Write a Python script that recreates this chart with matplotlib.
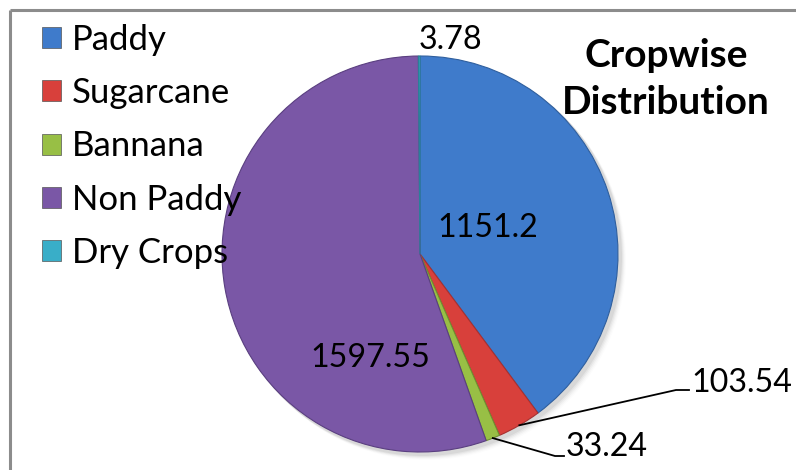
import matplotlib
matplotlib.use("Agg")
import matplotlib.pyplot as plt
import numpy as np

categories = ["Paddy", "Sugarcane", "Bannana", "Non Paddy", "Dry Crops"]
values = [1151.2, 103.54, 33.24, 1597.55, 3.78]
value_labels = ["1151.2", "103.54", "33.24", "1597.55", "3.78"]
colors = ["#3f7bcb", "#d8403b", "#98bf45", "#7a57a6", "#39aec8"]
edge_colors = ["#2f5f9e", "#a83030", "#6f8f30", "#5a3f80", "#2a8099"]
title = "Cropwise\nDistribution"

W, H = 796, 470
fig = plt.figure(figsize=(W / 100, H / 100), dpi=100)
ax = fig.add_axes([0, 0, 1, 1])
ax.set_xlim(0, W)
ax.set_ylim(0, H)
ax.axis("off")

FONT = "Lato"
cx, cy, R = 420, H - 254, 198

# soft shadow
for i, a in enumerate(np.linspace(0.05, 0.01, 5)):
    ax.add_patch(plt.Circle((cx + 3 + i, cy - 3 - i), R + 1, color="black", alpha=a, lw=0, zorder=0))

wedges, _ = ax.pie(values, colors=colors, startangle=90, counterclock=False,
                   center=(cx, cy), radius=R, frame=True,
                   wedgeprops=dict(linewidth=0.8))
for w, ec in zip(wedges, edge_colors):
    w.set_edgecolor(ec)
    w.set_zorder(2)
ax.set_xlim(0, W)
ax.set_ylim(0, H)
ax.axis("off")

# frame (cropped at right and bottom)
ax.plot([10, 10], [0, H - 10], color="#8c8c8c", lw=2.2, zorder=5, solid_capstyle="butt")
ax.plot([10, W], [H - 10, H - 10], color="#8c8c8c", lw=2.2, zorder=5, solid_capstyle="butt")

def edge_point(w, r=1.0):
    ang = np.deg2rad((w.theta1 + w.theta2) / 2)
    return cx + R * r * np.cos(ang), cy + R * r * np.sin(ang)

fs = 23.2
# inner labels
ax.text(488, H - 228, value_labels[0], fontsize=fs, family=FONT, ha="center", va="center", zorder=6)
ax.text(370, H - 358, value_labels[3], fontsize=fs, family=FONT, ha="center", va="center", zorder=6)
ax.text(450, H - 40, value_labels[4], fontsize=fs, family=FONT, ha="center", va="center", zorder=6)

# outer labels with leader lines
x0, y0 = edge_point(wedges[1])
ax.plot([x0, 676, 689], [y0, H - 390, H - 390], color="black", lw=1.3, zorder=6)
ax.text(691, H - 383, value_labels[1], fontsize=fs, family=FONT, ha="left", va="center", zorder=6)
x0, y0 = edge_point(wedges[2])
ax.plot([x0, 555, 564], [y0, H - 456, H - 456], color="black", lw=1.3, zorder=6)
ax.text(566, H - 447, value_labels[2], fontsize=fs, family=FONT, ha="left", va="center", zorder=6)

# title
ax.text(666, H - 79, title, fontsize=28, family=FONT, fontweight="bold",
        ha="center", va="center", linespacing=1.4, zorder=6)

# legend
leg = ax.legend(wedges, categories, loc="upper left", bbox_to_anchor=(42 / W, 1 - 24 / H),
                frameon=False, prop=dict(family=FONT, size=25), handlelength=0.55, handleheight=0.55,
                handletextpad=0.3, labelspacing=0.61, borderpad=0, borderaxespad=0)
for h in leg.legend_handles:
    h.set_edgecolor("#555555")
    h.set_linewidth(0.5)

fig.savefig("out.png", dpi=100, facecolor="white")
